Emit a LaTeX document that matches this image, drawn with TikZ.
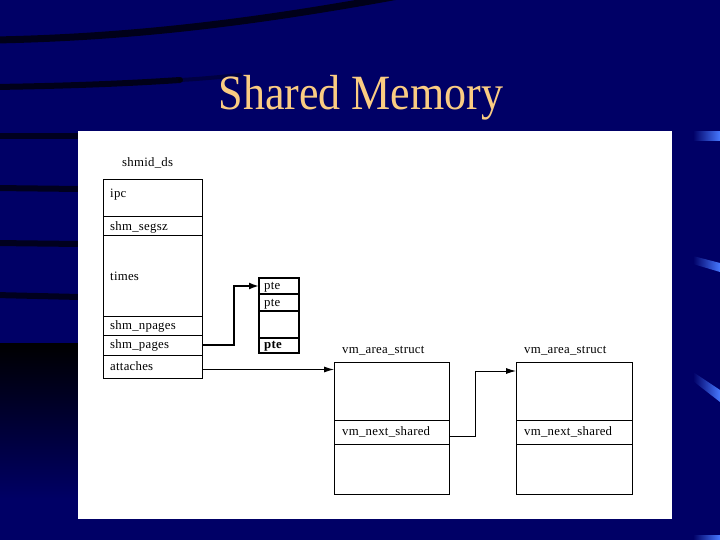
\documentclass[tikz,border=0pt]{standalone}
\usepackage{fontspec}
\setmainfont{Liberation Serif}
\newfontfamily\lblfont[LetterSpace=2]{Liberation Serif}
\usetikzlibrary{arrows.meta}
\definecolor{navy}{RGB}{0,0,102}
\definecolor{peach}{RGB}{250,204,130}
\definecolor{lightblue}{RGB}{70,120,255}
\begin{document}
\begin{tikzpicture}[x=1pt,y=-1pt,
  fieldbox/.style={draw=black,line width=0.9pt,inner sep=0pt,outer sep=0pt,anchor=north west},
  ptebox/.style={fieldbox,line width=1.4pt},
  lbl/.style={font=\lblfont\fontsize{12.8}{15}\selectfont,anchor=base west,inner sep=0pt},
  ptr/.style={line width=0.9pt,-{Latex[length=10pt,width=6pt]}},
  ptrthick/.style={line width=1.8pt,-{Latex[length=10pt,width=7pt]}},
  swoosh/.style={line cap=round,color=black}
]
\useasboundingbox (0,0) rectangle (720,540);
% background
\fill[navy] (0,0) rectangle (720,540);
% left dark swooshes
\draw[swoosh,line width=7pt,opacity=0.75] (-5,40) .. controls (150,37) and (280,18) .. (420,-8);
\draw[swoosh,line width=6pt,opacity=0.75] (-5,87) .. controls (60,86) and (120,84) .. (180,80);
\draw[swoosh,line width=4pt,opacity=0.35] (180,80) .. controls (200,79) and (220,77) .. (240,75);
\draw[swoosh,line width=6pt,opacity=0.7] (-5,136) -- (80,136);
\draw[swoosh,line width=6pt,opacity=0.7] (-5,188) -- (80,189);
\draw[swoosh,line width=6pt,opacity=0.7] (-5,243) -- (80,244);
\draw[swoosh,line width=6pt,opacity=0.7] (-5,295) -- (80,297);
\shade[top color=black,bottom color=navy] (0,343) rectangle (80,500);
% right blue marks
\shade[left color=navy,right color=lightblue] (693,132) rectangle (720,141);
\shade[left color=navy,right color=lightblue] (693,256) -- (720,263) -- (720,272) -- (693,264) -- cycle;
\shade[left color=navy,right color=lightblue] (693,372) -- (720,390) -- (720,402) -- (693,381) -- cycle;
\shade[left color=navy,right color=lightblue] (693,535) rectangle (720,540);
% title
\node[font=\fontsize{44}{50}\selectfont,text=peach,anchor=base,inner sep=0pt] (title) at (361,110) {\scalebox{1}[1.12]{Shared Memory}};
% white panel
\fill[white] (78,131) rectangle (672,519);
% shmid_ds
\node[lbl] (shmidlbl) at (122,167) {shmid\_ds};
\node[fieldbox,minimum width=99pt,minimum height=37pt] (ipc) at (103,179) {};
\node[fieldbox,minimum width=99pt,minimum height=19pt] (segsz) at (103,216) {};
\node[fieldbox,minimum width=99pt,minimum height=81pt] (times) at (103,235) {};
\node[fieldbox,minimum width=99pt,minimum height=19pt] (npages) at (103,316) {};
\node[fieldbox,minimum width=99pt,minimum height=20pt] (pages) at (103,335) {};
\node[fieldbox,minimum width=99pt,minimum height=23pt] (attaches) at (103,355) {};
\node[lbl] (ipclbl) at (110,197) {ipc};
\node[lbl] (segszlbl) at (110,230) {shm\_segsz};
\node[lbl] (timeslbl) at (110,280) {times};
\node[lbl] (npageslbl) at (110,329) {shm\_npages};
\node[lbl] (pageslbl) at (110,348) {shm\_pages};
\node[lbl] (attacheslbl) at (110,370) {attaches};
% pte box
\node[ptebox,minimum width=40pt,minimum height=16pt] (p1) at (259,278) {};
\node[ptebox,minimum width=40pt,minimum height=17pt] (p2) at (259,294) {};
\node[ptebox,minimum width=40pt,minimum height=27pt] (p3) at (259,311) {};
\node[ptebox,minimum width=40pt,minimum height=15pt] (p4) at (259,338) {};
\node[lbl] (p1lbl) at (264,289) {pte};
\node[lbl] (p2lbl) at (264,306) {pte};
\node[lbl,font=\lblfont\bfseries\fontsize{12.8}{15}\selectfont] (p4lbl) at (264,348) {pte};
% vm_area_struct 1
\node[lbl] (vm1lbl) at (342,353) {vm\_area\_struct};
\node[fieldbox,minimum width=115pt,minimum height=58pt] (vm1a) at (334,362) {};
\node[fieldbox,minimum width=115pt,minimum height=24pt] (vm1b) at (334,420) {};
\node[fieldbox,minimum width=115pt,minimum height=50pt] (vm1c) at (334,444) {};
\node[lbl] (vm1next) at (342,435) {vm\_next\_shared};
% vm_area_struct 2
\node[lbl] (vm2lbl) at (524,353) {vm\_area\_struct};
\node[fieldbox,minimum width=116pt,minimum height=58pt] (vm2a) at (516,362) {};
\node[fieldbox,minimum width=116pt,minimum height=24pt] (vm2b) at (516,420) {};
\node[fieldbox,minimum width=116pt,minimum height=50pt] (vm2c) at (516,444) {};
\node[lbl] (vm2next) at (524,435) {vm\_next\_shared};
% connectors
\draw[ptrthick] (pages.east) -- ++(32pt,0pt) |- (p1.west);
\coordinate (a1) at ([yshift=-3pt]attaches.east);
\draw[ptr] (a1) -- (a1 -| vm1a.west);
\coordinate (n1) at ([yshift=-4.5pt]vm1b.east);
\coordinate (t2) at ([yshift=-9pt]vm2a.north west);
\draw[ptr] (n1) -- ++(26pt,0pt) |- (t2);
\end{tikzpicture}
\end{document}
